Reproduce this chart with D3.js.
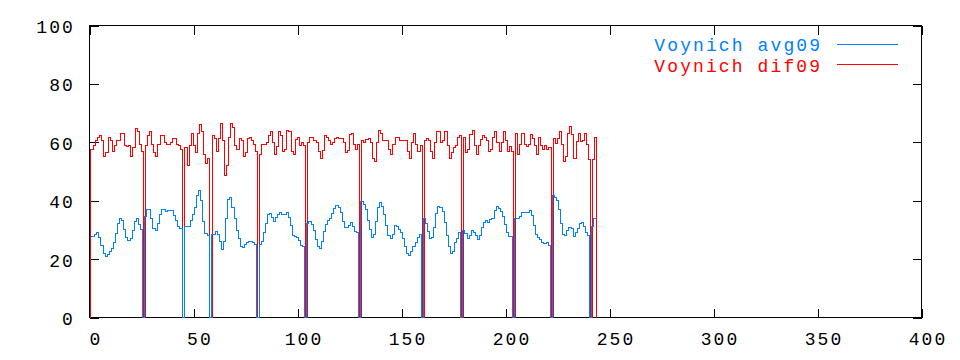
<!DOCTYPE html>
<html>
<head>
<meta charset="utf-8">
<script src="https://cdn.jsdelivr.net/npm/d3@7"></script>
<style>
  html, body { margin: 0; padding: 0; background: #fff; }
  svg { display: block; }
  text { font-family: "Liberation Mono", "DejaVu Sans Mono", monospace; font-size: 18px; letter-spacing: 2.1px; }
</style>
</head>
<body>
<svg id="chart" width="960" height="360"></svg>
<script>
// ---- data ----
const xTicks = [0, 50, 100, 150, 200, 250, 300, 350, 400];
const yTicks = [0, 20, 40, 60, 80, 100];
const seriesNames = ["Voynich avg09", "Voynich dif09"];

// avg09 (blue), one value per step, index 0 .. 243 (index 0 not drawn)
const avg09 = [null,
  27.8, 27.8, 28.5, 29, 27.4, 24.6, 21.9, 21, 21.7, 22.6, 23.7, 25.6, 28.8, 32.2, 33.9, 33.3, 30.2, 27.4, 26.4, 27, 29.9, 33, 33.9, 32, 30.1,
  0,
  34.7, 37, 37, 33.9, 30.5, 29.9, 32.2, 35.3, 37, 37, 36.2, 36.6, 36.6, 36.6, 35, 33.3, 31.3, 30.6,
  0,
  31.3, 31.3, 31.3, 33.3, 35.3, 37.7, 41.8, 43.5, 40, 33, 28.8, 28,
  0,
  28.5, 28.5, 29.5, 28.5, 25.9, 23.3, 25.9, 33.9, 40.5, 41.1, 37.6, 33.9, 29.9, 27, 24.2, 24, 25, 25.8, 25.9, 25.9, 25.6, 25.1,
  0,
  24.9, 25.9, 29, 32.2, 35.3, 35.6, 34.2, 33, 34.2, 35.4, 36, 35.3, 35.3, 36, 34.2, 31.5, 28.1, 27.6, 27.4, 26.3, 24.8, 24.2,
  0,
  32.2, 32.8, 32, 29.9, 26.7, 24.2, 23.6, 26, 29.4, 32, 33.3, 33.9, 35.6, 37.2, 38.4, 37.7, 35.8, 32.9, 30.8, 30.8, 31.5, 32.5, 31, 29.3, 29,
  0,
  39.8, 38.8, 37, 33.3, 30.1, 27.4, 28.5, 32.8, 37.7, 39.5, 38.1, 35.3, 31.5, 28.1, 27.2, 28.3, 31.5, 31, 30.1, 29, 27.2, 24.4, 21.9, 21.2, 22.6, 24.2, 25.6, 27.4, 28.5,
  0,
  33.9, 32.2, 29.3, 27.2, 27.4, 30.8, 35.6, 37.9, 37.7, 36.2, 32.4, 28.1, 24.2, 21.9, 22.6, 25.6, 27.2, 29,
  0,
  29.7, 28.8, 27, 28.2, 29.7, 29.2, 28.2, 26.7, 28, 30.8, 32.6, 33.3, 32.4, 33.6, 33.8, 36.5, 37.9, 37.4, 36.3, 34.5, 32, 29, 27.8, 27.6,
  0,
  33.9, 33.8, 34.7, 36.1, 36.1, 35.8, 36.1, 36.8, 34.9, 31.5, 28.5, 27.4, 26.7, 25.8, 25.3, 25.8, 24.8,
  0,
  41.9, 41.1, 40.2, 37, 32.2, 28.3, 28.1, 29.7, 30.8, 30.6, 27.6, 29, 30.6, 32.2, 32.6, 31.3, 29.2, 28.2,
  0,
  31, 33.9
];

// dif09 (red), one value per step, index 0 .. 243, then a final drop to 0
const dif09 = [
  57.5, 57.5, 59, 60.5, 61.6, 62.3, 60.6, 55.1, 56.5, 61.6, 60.6, 56.8, 58.9, 60.6, 60.6, 63, 63, 59, 58.4, 58.9, 55.1, 58.2, 64.7, 63.7, 59.4, 56.8,
  0,
  58.9, 62.3, 63.7, 59.4, 56.5, 55.1, 59.2, 62.3, 62.3, 59.9, 59.2, 59.2, 59.9, 61.3, 61.3, 59.2, 58.9, 57.5,
  0,
  58.2, 52, 58.9, 63, 58.9, 56.5, 63, 66.1, 63.7, 55.8, 52.7, 54.4,
  0,
  62.3, 61.3, 56.8, 61.3, 66.4, 60.6, 48.6, 52, 61.6, 66.4, 65, 58.9, 57.5, 61.3, 60.6, 55.1, 56.5, 61.3, 61.6, 60.6, 59.2, 56.8,
  0,
  55.8, 59.2, 59.2, 60, 62.4, 63.6, 59.8, 55.9, 58.4, 63.7, 62.4, 56.7, 57.5, 63.9, 63.6, 56.8, 55.9, 61, 61.5, 58.9, 60, 59,
  0,
  59.8, 61.5, 61.5, 60.7, 60, 56.7, 54.4, 57.1, 62.3, 61.6, 60.7, 59.4, 60, 61.2, 61.6, 61.3, 61.3, 59.8, 56.5, 57.3, 62.7, 63, 59.2, 57.5, 59.4,
  0,
  60.7, 60, 61, 61.3, 60, 54.4, 53.5, 59.8, 63.9, 63, 60.6, 60.6, 60.6, 57.5, 55.8, 59.1, 61.6, 61.6, 60.6, 60.6, 60.6, 60.6, 56.7, 54.4, 59.8, 63, 59.1, 56.8, 59,
  0,
  60.5, 61.2, 60.7, 56.8, 54.4, 60, 63.6, 63.6, 60, 60.7, 63.6, 58.8, 54.4, 56.4, 58.2, 58.9, 61.5, 62.3,
  0,
  61.6, 56.4, 57.5, 62.8, 63.9, 58.9, 55.8, 58.8, 61, 62.3, 61.5, 60.7, 56.8, 57.6, 61.6, 63.7, 60, 56.7, 59.8, 63.6, 60.5, 56.8, 58.7, 56.7,
  0,
  63, 55.9, 59.1, 63, 59.2, 58.4, 59.2, 62.8, 61.2, 59, 55.9, 61.6, 58.9, 57.5, 58.9, 57.5, 58.2,
  0,
  61.2, 59.6, 61.2, 63.6, 59.4, 53.5, 55, 63, 65.5, 62.7, 54.3, 60.2, 62.9, 60.2, 60.7, 63, 59.4, 54.1,
  0,
  54.1, 61.5
];

// ---- layout ----
const svg = d3.select("#chart");
const L = 89.5, R = 921.5, T = 25.5, B = 317.5;
const x = d3.scaleLinear().domain([0, 400]).range([L, R]);
const y = d3.scaleLinear().domain([0, 100]).range([B, T]);
const BLUE = "#0080ff", RED = "#ff0000";

// frame
svg.append("rect").attr("x", L).attr("y", T).attr("width", R - L).attr("height", B - T)
  .attr("fill", "none").attr("stroke", "#000").attr("stroke-width", 1).attr("shape-rendering", "crispEdges");

// axes
const gx = svg.append("g").attr("transform", `translate(0,${B})`)
  .call(d3.axisBottom(x).tickValues(xTicks).tickFormat(d3.format("d")).tickSizeInner(-9).tickSizeOuter(0).tickPadding(15));
gx.selectAll("text").attr("dx", 6);
const gy = svg.append("g").attr("transform", `translate(${L},0)`)
  .call(d3.axisLeft(y).tickValues(yTicks).tickFormat(d3.format("d")).tickSizeInner(-9).tickSizeOuter(0).tickPadding(14.5));
gy.selectAll("text").attr("dy", "0.39em");
const gt = svg.append("g").attr("transform", `translate(0,${T})`)
  .call(d3.axisTop(x).tickValues(xTicks).tickFormat("").tickSizeInner(-9).tickSizeOuter(0));
const gr = svg.append("g").attr("transform", `translate(${R},0)`)
  .call(d3.axisRight(y).tickValues(yTicks).tickFormat("").tickSizeInner(-9).tickSizeOuter(0));
[gx, gy, gt, gr].forEach(g => {
  g.select(".domain").remove();
  g.selectAll("line").attr("stroke", "#000").attr("shape-rendering", "crispEdges");
  g.selectAll("text").attr("fill", "#000").attr("font-family", null).attr("font-size", null);
});

// step series
const line = d3.line().curve(d3.curveStepAfter).x(d => x(d.x)).y(d => y(d.v));

// red: step k spans [k-0.1, k+0.9], starts with a rise from 0
const redOff = -0.1, redStart = 0.35;
const redPts = [];
dif09.forEach((v, i) => redPts.push({ x: i === 0 ? redStart : i + redOff, v }));
redPts.unshift({ x: redStart, v: 0 });
const redEnd = dif09.length + redOff;
redPts.push({ x: redEnd, v: dif09[dif09.length - 1] });
redPts.push({ x: redEnd, v: 0 });

// blue: step k spans [k-0.5, k+0.5]
const blueOff = -0.5;
const bluePts = [];
avg09.forEach((v, i) => { if (v !== null) bluePts.push({ x: i + blueOff, v }); });
bluePts.push({ x: avg09.length + blueOff, v: avg09[avg09.length - 1] });

svg.append("path").attr("d", line(redPts)).attr("fill", "none").attr("stroke", RED)
  .attr("stroke-width", 1).attr("shape-rendering", "crispEdges");
svg.append("path").attr("d", line(bluePts)).attr("fill", "none").attr("stroke", BLUE)
  .attr("stroke-width", 1).attr("shape-rendering", "crispEdges");

// legend
const legend = [
  { name: seriesNames[0], color: BLUE, base: 51, ly: 44.5 },
  { name: seriesNames[1], color: RED, base: 72, ly: 64.5 }
];
legend.forEach(d => {
  svg.append("text").attr("x", 822.1).attr("y", d.base).attr("text-anchor", "end")
    .attr("fill", d.color).text(d.name);
  svg.append("line").attr("x1", 837).attr("x2", 898).attr("y1", d.ly).attr("y2", d.ly)
    .attr("stroke", d.color).attr("stroke-width", 1).attr("shape-rendering", "crispEdges");
});
</script>
</body>
</html>
